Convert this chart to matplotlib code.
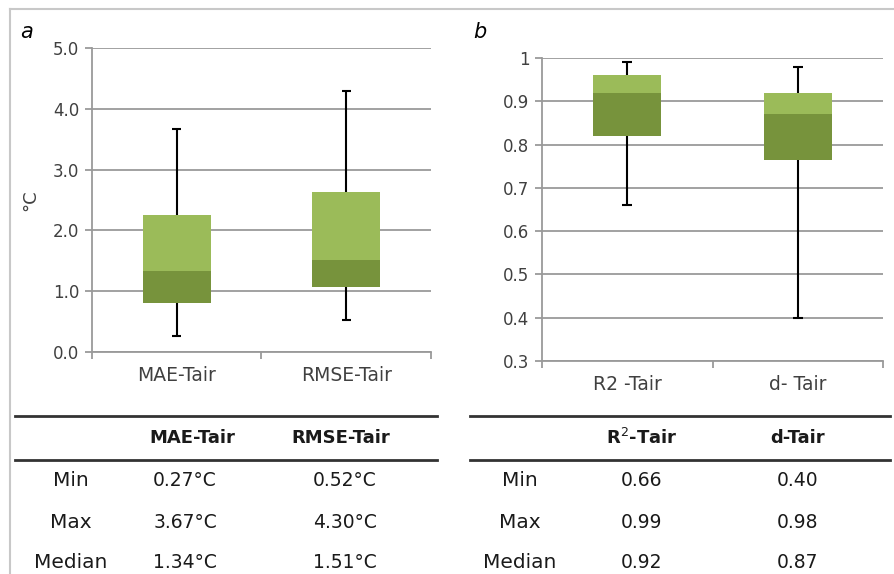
import matplotlib
matplotlib.use("Agg")
import matplotlib.pyplot as plt
from matplotlib.lines import Line2D

# panel a: error stats in degC
cats_a = ["MAE-Tair", "RMSE-Tair"]
min_a = [0.27, 0.52]
q1_a = [0.80, 1.07]
med_a = [1.34, 1.51]
q3_a = [2.25, 2.63]
max_a = [3.67, 4.30]

# panel b: agreement stats
cats_b = ["R2 -Tair", "d- Tair"]
min_b = [0.66, 0.40]
q1_b = [0.82, 0.765]
med_b = [0.92, 0.87]
q3_b = [0.96, 0.92]
max_b = [0.99, 0.98]

# tables under the charts
row_names = ["Min", "Max", "Median"]
head_a = ["MAE-Tair", "RMSE-Tair"]
cells_a = [["0.27°C", "0.52°C"], ["3.67°C", "4.30°C"], ["1.34°C", "1.51°C"]]
head_b = ["R$^2$-Tair", "d-Tair"]
cells_b = [["0.66", "0.40"], ["0.99", "0.98"], ["0.92", "0.87"]]

LIGHT = "#9bbb59"
DARK = "#77933c"
GRID = "#9a9a9a"
TXT = "#404040"

W, H = 895, 574
plt.rcParams["font.family"] = ["DejaVu Sans"]
fig = plt.figure(figsize=(W / 100, H / 100), dpi=100)


def px_axes(x0, y0, x1, y1):
    # pixel box (top-left origin) -> figure axes
    return fig.add_axes([x0 / W, 1 - y1 / H, (x1 - x0) / W, (y1 - y0) / H])


def box_panel(ax, cats, lo, q1, med, q3, hi, ymin, ymax, step, fmt):
    xs = [0.5 + i for i in range(len(cats))]
    for x, a, b, m, c, d in zip(xs, lo, q1, med, q3, hi):
        ax.vlines(x, a, d, color="black", lw=1.5, zorder=2)
        ax.hlines([a, d], x - 0.028, x + 0.028, color="black", lw=1.5, zorder=2)
    ax.bar(xs, [m - b for b, m in zip(q1, med)], bottom=q1, width=0.4,
           color=DARK, zorder=3)
    ax.bar(xs, [c - m for m, c in zip(med, q3)], bottom=med, width=0.4,
           color=LIGHT, zorder=3)
    ax.set_xlim(0, len(cats))
    ax.set_ylim(ymin, ymax)
    ticks = [ymin + i * step for i in range(int(round((ymax - ymin) / step)) + 1)]
    ax.set_yticks(ticks)
    ax.set_yticklabels([fmt(t) for t in ticks], fontsize=12, color=TXT)
    ax.yaxis.grid(True, color=GRID, lw=1.3)
    ax.set_axisbelow(True)
    ax.tick_params(axis="y", length=5, color=GRID, width=1.3, pad=4)
    ax.set_xticks(range(len(cats) + 1))
    ax.set_xticklabels([])
    ax.set_xticks(xs, minor=True)
    ax.set_xticklabels(cats, minor=True, fontsize=13.5, color=TXT)
    ax.tick_params(axis="x", which="major", length=5, color=GRID, width=1.3)
    ax.tick_params(axis="x", which="minor", length=0, pad=10)
    for s in ["top", "right"]:
        ax.spines[s].set_visible(False)
    for s in ["left", "bottom"]:
        ax.spines[s].set_color(GRID)
        ax.spines[s].set_linewidth(1.3)


ax1 = px_axes(92, 48, 431, 352)
box_panel(ax1, cats_a, min_a, q1_a, med_a, q3_a, max_a, 0.0, 5.0, 1.0,
          lambda v: f"{v:.1f}")
fig.text(30 / W, 1 - 200 / H, "°C", rotation=90, fontsize=13, color=TXT,
         ha="center", va="center")

ax2 = px_axes(542, 58, 883, 361)
box_panel(ax2, cats_b, min_b, q1_b, med_b, q3_b, max_b, 0.3, 1.0, 0.1,
          lambda v: "1" if abs(v - 1) < 1e-9 else f"{v:.1f}")

fig.text(27 / W, 1 - 32 / H, "a", fontsize=15, style="italic", ha="center", va="center")
fig.text(480 / W, 1 - 32 / H, "b", fontsize=15, style="italic", ha="center", va="center")

# frame lines
fig.add_artist(Line2D([10 / W, 1], [1 - 9 / H, 1 - 9 / H], color="#c8c8c8", lw=1.5))
fig.add_artist(Line2D([10 / W, 10 / W], [1 - 9 / H, 0], color="#c8c8c8", lw=1.5))


def draw_table(x0, x1, xlab, xheads, xcols, heads, cells):
    for y in (416, 460):
        fig.add_artist(Line2D([x0 / W, x1 / W], [1 - y / H, 1 - y / H],
                              color="#333333", lw=2))
    for xc, h in zip(xheads, heads):
        fig.text(xc / W, 1 - 438 / H, h, fontsize=13, weight="bold",
                 ha="center", va="center", color="#1a1a1a")
    for i, name in enumerate(row_names):
        y = [481, 523, 562][i]
        fig.text(xlab / W, 1 - y / H, name, fontsize=14.5, ha="center",
                 va="center", color="#1a1a1a")
        for xc, v in zip(xcols, cells[i]):
            fig.text(xc / W, 1 - y / H, v, fontsize=13.5, ha="center",
                     va="center", color="#1a1a1a")


draw_table(15, 437, 71, [192, 341], [185, 345], head_a, cells_a)
draw_table(470, 890, 520, [642, 798], [642, 798], head_b, cells_b)

fig.savefig("out.png", dpi=100)
